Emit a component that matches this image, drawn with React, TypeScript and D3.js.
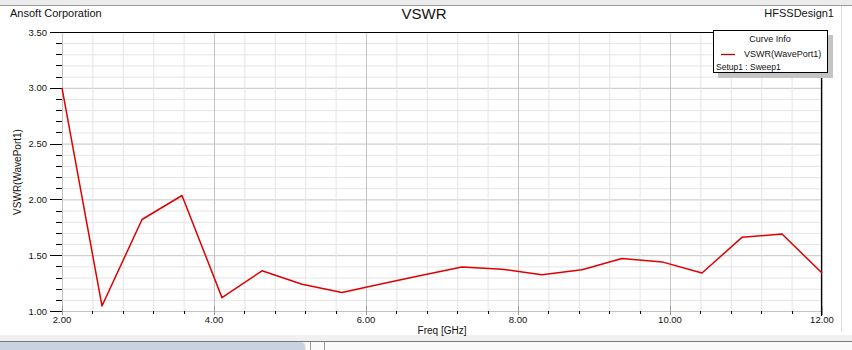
import React from 'react';
import * as d3 from 'd3';

const freqs: number[] = [2.0, 2.526, 3.053, 3.579, 4.105, 4.632, 5.158, 5.684, 6.211, 6.737, 7.263, 7.789, 8.316, 8.842, 9.368, 9.895, 10.421, 10.947, 11.474, 12.0];
const vswr: number[] = [3.0, 1.045, 1.82, 2.035, 1.12, 1.36, 1.24, 1.165, 1.245, 1.32, 1.395, 1.375, 1.325, 1.37, 1.47, 1.44, 1.34, 1.66, 1.69, 1.34];
const xTickLabels: number[] = [2, 4, 6, 8, 10, 12];
const yTickLabels: number[] = [1.0, 1.5, 2.0, 2.5, 3.0, 3.5];

const W = 852, H = 350;
const font = 'Liberation Sans, Arial, sans-serif';

export default function App() {
  const x = d3.scaleLinear().domain([2, 12]).range([62, 822]);
  const y = d3.scaleLinear().domain([1, 3.5]).range([311, 32]);
  const xMinor = d3.range(0, 26).map(i => 2 + i * 0.4).filter(v => v <= 12.001);
  const yMinor = d3.range(0, 26).map(i => 1 + i * 0.1).filter(v => v <= 3.501);
  const isMajorX = (v: number) => Math.abs(v / 2 - Math.round(v / 2)) < 1e-6;
  const isMajorY = (v: number) => Math.abs(v / 0.5 - Math.round(v / 0.5)) < 1e-6;
  const line = d3.line<number>().x((_, i) => x(freqs[i])).y(d => y(d));

  return (
    <svg width={W} height={H} style={{ position: 'absolute', left: 0, top: 0, background: '#fff' }} fontFamily={font}>
      {/* window chrome */}
      <rect x={0} y={0} width={W} height={5} fill="#ececec" />
      <line x1={0} x2={W} y1={5.5} y2={5.5} stroke="#9a9a9a" />
      <line x1={841.5} x2={841.5} y1={6} y2={332} stroke="#e0e0e0" />
      <rect x={0} y={335} width={W} height={15} fill="#f0f0f0" />
      <line x1={0} x2={W} y1={341.5} y2={341.5} stroke="#7a7a7a" />
      <path d="M0,342 H300 Q305,342 305,347 V350 H0 Z" fill="#c8d3df" />
      <rect x={306} y={342} width={546} height={8} fill="#fafafa" />
      <line x1={310.5} x2={310.5} y1={342} y2={350} stroke="#999" />
      <line x1={324.5} x2={324.5} y1={342} y2={350} stroke="#999" />

      {/* grid */}
      {yMinor.map(v => (
        <line key={'gy' + v} x1={62} x2={821} y1={y(v) + 0.5} y2={y(v) + 0.5}
          stroke={isMajorY(v) ? '#c4c4c4' : '#e4e4e4'} strokeWidth={1} />
      ))}
      {xMinor.map(v => (
        <line key={'gx' + v} x1={x(v) + 0.5} x2={x(v) + 0.5} y1={32} y2={311}
          stroke={isMajorX(v) ? '#c4c4c4' : '#e4e4e4'} strokeWidth={1} />
      ))}

      {/* y ticks */}
      {yMinor.map(v => (
        <line key={'ty' + v} x1={isMajorY(v) ? 50 : 56} x2={62} y1={Math.round(y(v)) + 0.5} y2={Math.round(y(v)) + 0.5}
          stroke="#000" strokeWidth={1} />
      ))}
      {/* x ticks */}
      {xMinor.map(v => (
        <line key={'tx' + v} x1={Math.round(x(v)) + 0.5} x2={Math.round(x(v)) + 0.5} y1={isMajorX(v) ? 306 : 311} y2={isMajorX(v) ? 315 : 314}
          stroke={isMajorX(v) ? '#999' : '#000'} strokeWidth={1} />
      ))}

      {/* frame */}
      <line x1={50} x2={822} y1={32.5} y2={32.5} stroke="#000" strokeWidth={1.2} />
      <line x1={821.5} x2={821.5} y1={32} y2={316} stroke="#000" strokeWidth={1.2} />

      {/* tick labels */}
      {yTickLabels.map(v => (
        <text key={'ly' + v} x={47} y={y(v) + 3.5} fontSize={9.5} textAnchor="end" fill="#111">{v.toFixed(2)}</text>
      ))}
      {xTickLabels.map(v => (
        <text key={'lx' + v} x={x(v)} y={323} fontSize={9.5} textAnchor="middle" fill="#111">{v.toFixed(2)}</text>
      ))}

      {/* axis titles */}
      <text x={442} y={334} fontSize={10} textAnchor="middle" fill="#111">Freq [GHz]</text>
      <text transform="translate(21,172) rotate(-90)" fontSize={10} textAnchor="middle" fill="#111">VSWR(WavePort1)</text>

      {/* header texts */}
      <text x={10} y={17} fontSize={11} fill="#111">Ansoft Corporation</text>
      <text x={424} y={19} fontSize={15} textAnchor="middle" fill="#111">VSWR</text>
      <text x={834} y={17} fontSize={11} textAnchor="end" fill="#111">HFSSDesign1</text>

      {/* data */}
      <path d={line(vswr) || ''} fill="none" stroke="#e00000" strokeWidth={1.5} strokeLinejoin="round" />

      {/* legend */}
      <rect x={718} y={35} width={115} height={43} fill="#c4c4c4" />
      <rect x={713.5} y={30.5} width={114} height={42} fill="#fff" stroke="#000" strokeWidth={1} />
      <text x={770} y={42} fontSize={9} textAnchor="middle" fill="#111">Curve Info</text>
      <line x1={721} x2={735} y1={54.5} y2={54.5} stroke="#c00000" strokeWidth={1.3} />
      <text x={744} y={57} fontSize={9} fill="#111">VSWR(WavePort1)</text>
      <text x={716} y={70} fontSize={8.5} fill="#111">Setup1 : Sweep1</text>
    </svg>
  );
}
